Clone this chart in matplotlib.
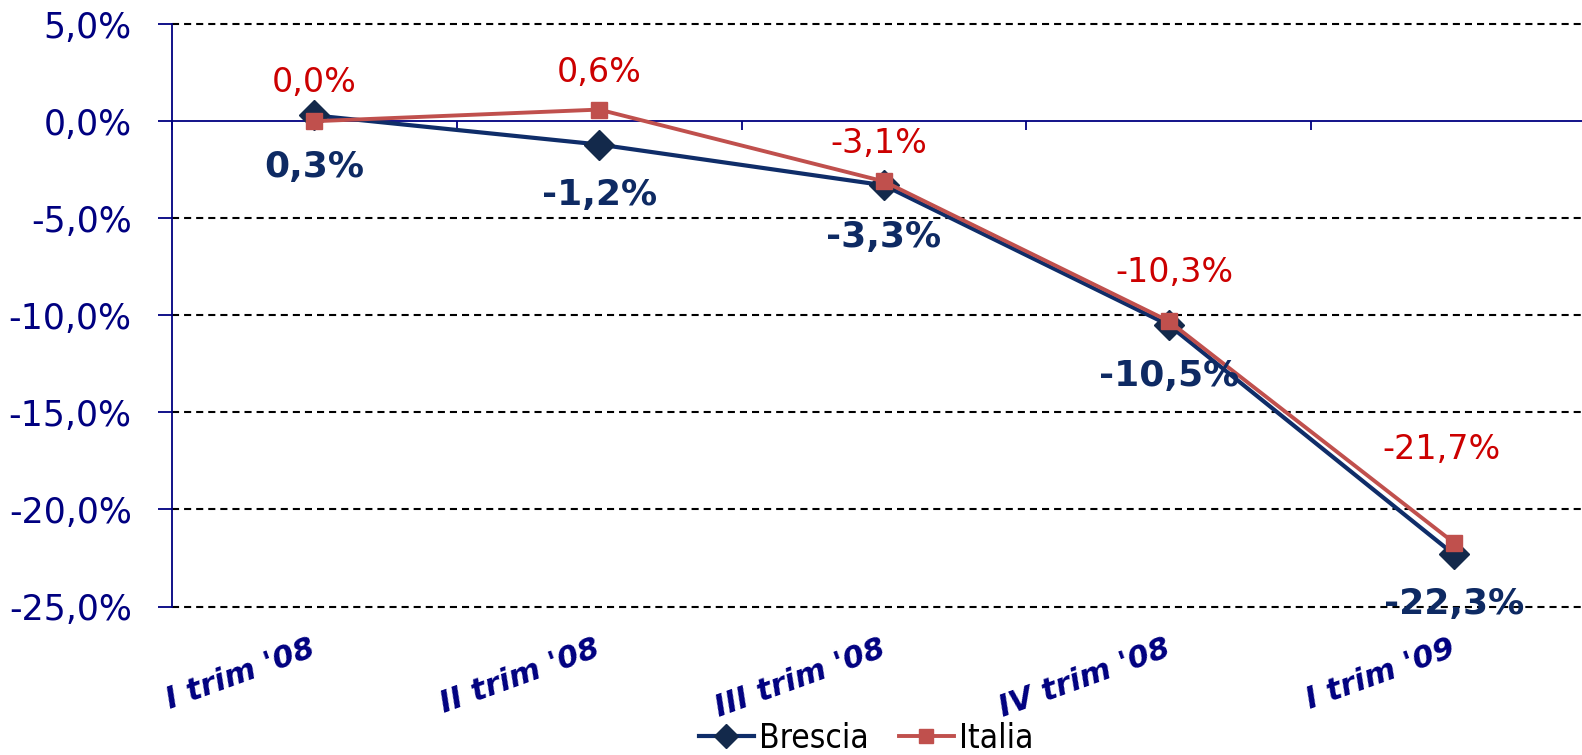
import matplotlib
matplotlib.use('Agg')
import matplotlib.pyplot as plt
import matplotlib.transforms as mtransforms

# Dati: variazione tendenziale per trimestre
trimestri = ["I trim '08", "II trim '08", "III trim '08", "IV trim '08", "I trim '09"]
brescia = [0.3, -1.2, -3.3, -10.5, -22.3]
italia = [0.0, 0.6, -3.1, -10.3, -21.7]
y_ticks = [5, 0, -5, -10, -15, -20, -25]

# spostamento delle etichette (in punti), come posizionate a mano nel grafico originale
off_brescia = [(0, -37), (0, -36), (0, -37), (0, -37), (0, -36)]
off_italia = [(0, 28), (0, 27), (-4, 27), (4, 35), (-9, 67)]

navy = '#000080'
col_bs = '#0f2d69'
col_it = '#c0504d'


def perc(v):
    return f"{v:.1f}%".replace('.', ',')


fig = plt.figure(figsize=(15.82, 7.55), dpi=100)
ax = fig.add_axes([0.1087, 0.1966, 0.9002, 0.7714])

x = list(range(len(trimestri)))
ax.plot(x, brescia, color=col_bs, lw=3, marker='D', ms=15,
        mfc='#13294b', mec='#13294b', label='Brescia', zorder=3)
ax.plot(x, italia, color=col_it, lw=2.8, marker='s', ms=12,
        mfc=col_it, mec=col_it, label='Italia', zorder=4)

# etichette dei valori
for i, v in enumerate(brescia):
    ax.annotate(perc(v), (i, v), xytext=off_brescia[i], textcoords='offset points',
                ha='center', va='center', fontsize=26, fontweight='bold',
                color='#0e2a63', zorder=6)
for i, v in enumerate(italia):
    ax.annotate(perc(v), (i, v), xytext=off_italia[i], textcoords='offset points',
                ha='center', va='center', fontsize=24, color='#cc0000', zorder=6)

ax.set_xlim(-0.5, len(trimestri) - 0.5)
ax.set_ylim(min(y_ticks), max(y_ticks))

# asse y
ax.set_yticks(y_ticks)
ax.set_yticklabels([perc(v) for v in y_ticks])
ax.tick_params(axis='y', colors=navy, labelsize=25, length=10, width=1.3, pad=19)

# griglia tratteggiata (non sulla linea dello zero)
for yv in y_ticks:
    if yv != 0:
        ax.axhline(yv, color='black', lw=1.5, ls=(0, (3.4, 2.4)), zorder=1, clip_on=False)

# asse x sullo zero con tacche tra le categorie
ax.spines['bottom'].set_position(('data', 0))
ax.spines['bottom'].set_color(navy)
ax.spines['bottom'].set_linewidth(1.3)
ax.spines['left'].set_color(navy)
ax.spines['left'].set_linewidth(1.3)
ax.spines['top'].set_visible(False)
ax.spines['right'].set_visible(False)
ax.set_xticks([i - 0.5 for i in range(len(trimestri) + 1)])
ax.set_xticklabels([])
ax.tick_params(axis='x', colors=navy, length=6.5, width=1.3, direction='out')

# etichette delle categorie in basso
trans = mtransforms.blended_transform_factory(ax.transData, ax.transAxes)
for i, lab in enumerate(trimestri):
    ax.text(i, -0.07, lab, transform=trans, rotation=20, rotation_mode='anchor',
            ha='right', va='center', fontsize=22, fontweight='heavy',
            fontstyle='italic', color=navy)

leg = fig.legend(loc='center', bbox_to_anchor=(0.5475, 0.0225), ncol=2, frameon=False,
                 handlelength=1.65, handletextpad=0.16, columnspacing=0.9, markerscale=0.8,
                 prop={'family': 'DejaVu Sans', 'stretch': 'condensed', 'size': 24})

fig.savefig('out.png', dpi=100)
